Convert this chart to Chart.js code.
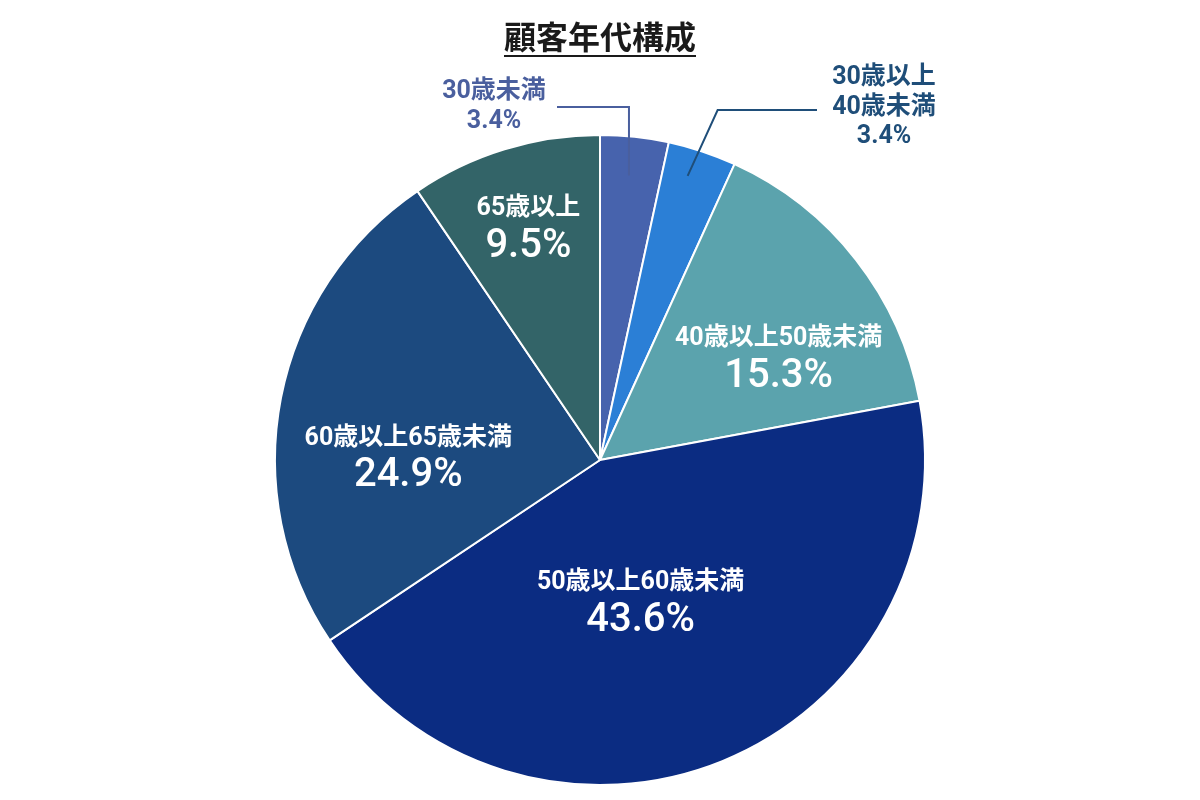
<!DOCTYPE html>
<html lang="ja">
<head>
<meta charset="utf-8">
<script src="https://cdn.jsdelivr.net/npm/chart.js@4"></script>
<style>
  html, body { margin: 0; padding: 0; background: #fff; }
  #wrap { width: 1200px; height: 800px; position: relative; }
</style>
</head>
<body>
<div id="wrap"><canvas id="pie" width="1200" height="800"></canvas></div>
<script>
/* ─── Data ───────────────────────────────────────── */
const TITLE      = '顧客年代構成';
const CATEGORIES = ['30歳未満', '30歳以上40歳未満', '40歳以上50歳未満', '50歳以上60歳未満', '60歳以上65歳未満', '65歳以上'];
const LABEL_TEXT = [['30歳未満'], ['30歳以上', '40歳未満'], ['40歳以上50歳未満'], ['50歳以上60歳未満'], ['60歳以上65歳未満'], ['65歳以上']];
const SHARES     = [3.4, 3.4, 15.3, 43.6, 24.9, 9.5];

/* ─── Styles ─────────────────────────────────────── */
const COLORS = ['#4763ad', '#2b7fd6', '#5ba3ad', '#0b2c82', '#1c4a7f', '#336468'];
const FONT   = 'Roboto, "Noto Sans CJK JP", "Noto Sans", sans-serif';

// inside labels: r = fraction of radius, da = degrees shift from slice middle
const INSIDE = {
  2: { r: 0.635, da: 8 },
  3: { r: 0.45,  da: 6 },
  4: { r: 0.59,  da: -10 },
  5: { r: 0.75,  da: 0 },
};
// outside labels with elbow leader lines
const OUTSIDE = {
  0: { r: 0.88, da: -0.3, elbowY: 107, endX: 557, color: '#4a5f9e', textX: 494, textY: 92 },
  1: { r: 0.915, da: -1.2, elbowDX: 30, elbowY: 110, endX: 817, color: '#1f4e79', textX: 884, textY: 78 },
};

/* ─── Plugins ────────────────────────────────────── */
const titlePlugin = {
  id: 'titleUnderline',
  afterDraw(chart) {
    const c = chart.ctx;
    c.save();
    c.font = `bold 32px ${FONT}`;
    c.fillStyle = '#1a1a1a';
    c.textAlign = 'center';
    c.textBaseline = 'middle';
    c.fillText(TITLE, 600, 41);
    const w = c.measureText(TITLE).width;
    c.strokeStyle = '#1a1a1a';
    c.lineWidth = 2;
    c.beginPath();
    c.moveTo(600 - w / 2, 56);
    c.lineTo(600 + w / 2, 56);
    c.stroke();
    c.restore();
  },
};

function arcPoint(arc, frac, da) {
  const a = (arc.startAngle + arc.endAngle) / 2 + da * Math.PI / 180;
  const r = arc.outerRadius * frac;
  return { x: arc.x + Math.cos(a) * r, y: arc.y + Math.sin(a) * r };
}

const labelPlugin = {
  id: 'sliceLabels',
  afterDatasetsDraw(chart) {
    const c = chart.ctx;
    const arcs = chart.getDatasetMeta(0).data;
    c.save();
    c.textAlign = 'center';
    c.textBaseline = 'middle';

    arcs.forEach((arc, i) => {
      const pct = SHARES[i].toFixed(1) + '%';
      if (INSIDE[i]) {
        const p = arcPoint(arc, INSIDE[i].r, INSIDE[i].da);
        c.fillStyle = '#ffffff';
        c.font = `bold 25px ${FONT}`;
        c.fillText(LABEL_TEXT[i][0], p.x, p.y - 18);
        c.font = `500 40px ${FONT}`;
        c.fillText(pct, p.x, p.y + 20);
      } else if (OUTSIDE[i]) {
        const o = OUTSIDE[i];
        const p = arcPoint(arc, o.r, o.da);
        const ex = o.elbowDX ? p.x + o.elbowDX : p.x;
        c.strokeStyle = o.color;
        c.lineWidth = 2;
        c.beginPath();
        c.moveTo(p.x, p.y);
        c.lineTo(ex, o.elbowY);
        c.lineTo(o.endX, o.elbowY);
        c.stroke();

        c.fillStyle = o.color;
        c.font = `bold 25px ${FONT}`;
        const lines = LABEL_TEXT[i].concat([pct]);
        lines.forEach((t, k) => c.fillText(t, o.textX, o.textY + k * 29.5));
      }
    });
    c.restore();
  },
};

/* ─── Chart ──────────────────────────────────────── */
new Chart(document.getElementById('pie').getContext('2d'), {
  type: 'pie',
  data: {
    labels: CATEGORIES,
    datasets: [{
      data: SHARES,
      backgroundColor: COLORS,
      borderColor: '#ffffff',
      borderWidth: 2,
    }],
  },
  options: {
    responsive: false,
    animation: false,
    layout: { padding: { top: 134, bottom: 14, left: 0, right: 0 } },
    plugins: {
      legend: { display: false },
      tooltip: { enabled: false },
      title: { display: false },
    },
  },
  plugins: [titlePlugin, labelPlugin],
});
</script>
</body>
</html>
